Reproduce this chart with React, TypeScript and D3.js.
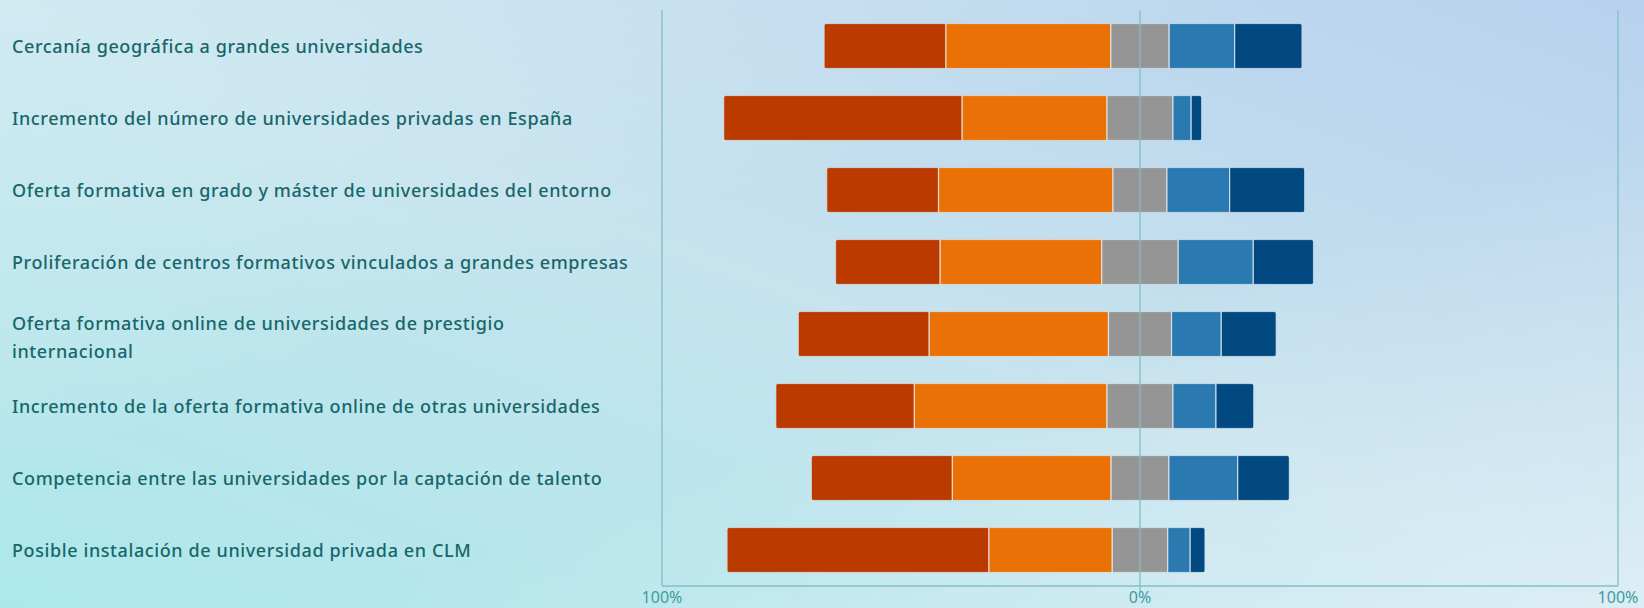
import React from "react";
import * as d3 from "d3";

const categories: string[] = [
  "Cercanía geográfica a grandes universidades",
  "Incremento del número de universidades privadas en España",
  "Oferta formativa en grado y máster de universidades del entorno",
  "Proliferación de centros formativos vinculados a grandes empresas",
  "Oferta formativa online de universidades de prestigio internacional",
  "Incremento de la oferta formativa online de otras universidades",
  "Competencia entre las universidades por la captación de talento",
  "Posible instalación de universidad privada en CLM",
];

// Likert shares (%), from most negative to most positive
const level1: number[] = [25.5, 49.9, 23.4, 21.9, 27.4, 29.0, 29.5, 54.8];
const level2: number[] = [34.5, 30.3, 36.5, 33.8, 37.5, 40.3, 33.2, 25.8];
const level3: number[] = [12.2, 13.8, 11.3, 16.0, 13.2, 13.8, 12.1, 11.6];
const level4: number[] = [13.7, 3.8, 13.1, 15.7, 10.4, 9.0, 14.4, 4.7];
const level5: number[] = [14.1, 2.2, 15.7, 12.6, 11.5, 7.9, 10.8, 3.1];

const seriesColors: string[] = ["#BA3A00", "#EA7106", "#959595", "#2A79B0", "#024981"];
const tickValues: number[] = [-100, 0, 100];
const tickLabels: string[] = ["100%", "0%", "100%"];

const W = 1644;
const H = 608;
const plotLeft = 662;
const plotRight = 1618;
const plotTop = 10;
const plotBottom = 586;
const labelX = 12;
const labelMaxChars = 66;
const fontFamily = "'Noto Sans', 'Open Sans', sans-serif";
const labelSize = 18;
const labelSpacing = 0.6;
const lineHeight = 28;

function wrap(text: string, maxChars: number): string[] {
  const words = text.split(" ");
  const lines: string[] = [];
  let cur = "";
  for (const w of words) {
    const test = cur ? cur + " " + w : w;
    if (test.length > maxChars && cur) {
      lines.push(cur);
      cur = w;
    } else cur = test;
  }
  if (cur) lines.push(cur);
  return lines;
}

export default function App() {
  const x = d3.scaleLinear().domain([-100, 100]).range([plotLeft, plotRight]);
  const y = d3
    .scaleBand<string>()
    .domain(categories)
    .range([plotTop, plotBottom])
    .paddingInner(0.375)
    .paddingOuter(0.1875);

  const levels = [level1, level2, level3, level4, level5];
  const bw = y.bandwidth();

  return (
    <svg
      width={W}
      height={H}
      style={{ position: "fixed", left: 0, top: 0, display: "block" }}
      fontFamily={fontFamily}
    >
      <defs>
        <linearGradient id="bgA" x1="0" y1="1" x2="1" y2="0">
          <stop offset="0" stopColor="#ace8ea" />
          <stop offset="0.5" stopColor="#c6e3ee" />
          <stop offset="1" stopColor="#b8d2ee" />
        </linearGradient>
        <linearGradient id="bgB" x1="0" y1="0" x2="1" y2="1" gradientUnits="objectBoundingBox">
          <stop offset="0" stopColor="#e6fbfb" stopOpacity="0.3" />
          <stop offset="0.4" stopColor="#ffffff" stopOpacity="0" />
          <stop offset="0.6" stopColor="#ffffff" stopOpacity="0" />
          <stop offset="1" stopColor="#ffffff" stopOpacity="0.4" />
        </linearGradient>
        {categories.map((c, i) => {
          const neg = level1[i] + level2[i] + level3[i] / 2;
          const total = level1[i] + level2[i] + level3[i] + level4[i] + level5[i];
          const x0 = x(-neg);
          const x1 = x(total - neg);
          return (
            <clipPath id={`clip${i}`} key={c}>
              <rect x={x0} y={y(c)!} width={x1 - x0} height={bw} rx={3.5} ry={3.5} />
            </clipPath>
          );
        })}
      </defs>
      <rect x={0} y={0} width={W} height={H} fill="url(#bgA)" />
      <rect x={0} y={0} width={W} height={H} fill="url(#bgB)" />

      {/* axis lines */}
      <g stroke="#80c0c4" strokeWidth={1.3} fill="none">
        <line x1={x(-100)} x2={x(-100)} y1={plotTop} y2={plotBottom} />
        <line x1={x(100)} x2={x(100)} y1={plotTop} y2={plotBottom} />
        <line x1={x(-100)} x2={x(100)} y1={plotBottom} y2={plotBottom} />
      </g>

      {/* bars */}
      {categories.map((c, i) => {
        const neg = level1[i] + level2[i] + level3[i] / 2;
        let acc = -neg;
        return (
          <g key={c} clipPath={`url(#clip${i})`}>
            {levels.map((lv, k) => {
              const start = acc;
              acc += lv[i];
              return (
                <rect
                  key={k}
                  x={x(start)}
                  y={y(c)!}
                  width={x(acc) - x(start)}
                  height={bw}
                  fill={seriesColors[k]}
                  stroke="rgba(235,240,245,0.75)"
                  strokeWidth={1.2}
                />
              );
            })}
          </g>
        );
      })}

      {/* zero line */}
      <line x1={x(0)} x2={x(0)} y1={plotTop} y2={plotBottom + 6} stroke="#80c0c4" strokeWidth={1.3} />

      {/* tick labels */}
      {tickValues.map((t, i) => (
        <text
          key={i}
          x={x(t)}
          y={603}
          textAnchor="middle"
          fontSize={16}
          fill="#3f9c9e"
        >
          {tickLabels[i]}
        </text>
      ))}

      {/* category labels */}
      {categories.map((c) => {
        const lines = wrap(c, labelMaxChars);
        const cy = y(c)! + bw / 2;
        const first = cy + 7 - (lines.length - 1) * 11;
        return (
          <text
            key={c}
            x={labelX}
            fontSize={labelSize}
            fill="#17666a"
            fontWeight={500}
            letterSpacing={labelSpacing}
          >
            {lines.map((l, j) => (
              <tspan key={j} x={labelX} y={first + j * lineHeight}>
                {l}
              </tspan>
            ))}
          </text>
        );
      })}
    </svg>
  );
}
